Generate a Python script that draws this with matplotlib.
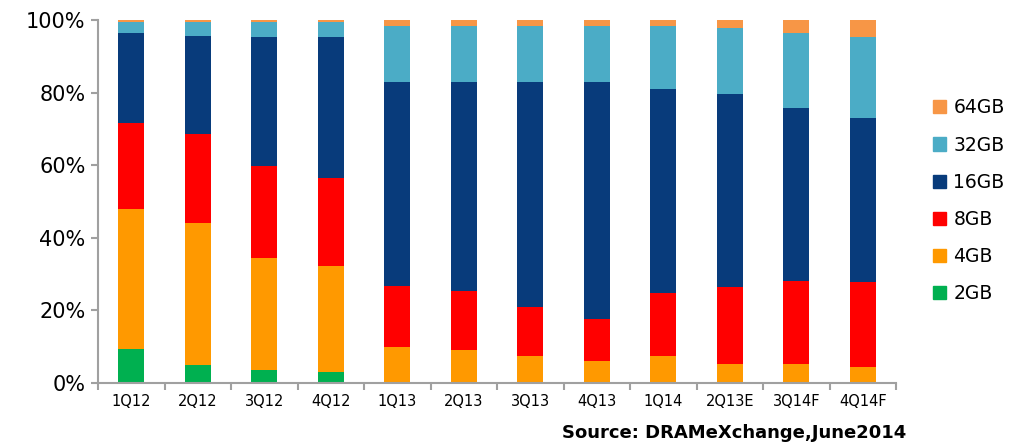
import numpy as np
import matplotlib.pyplot as plt
from matplotlib.patches import Patch

quarters = ["1Q12", "2Q12", "3Q12", "4Q12", "1Q13", "2Q13", "3Q13", "4Q13",
            "1Q14", "2Q13E", "3Q14F", "4Q14F"]

# share of shipments per capacity (%)
gb2 = [9.5, 5.0, 3.6, 3.0, 0, 0, 0, 0, 0, 0, 0, 0]
gb4 = [38.5, 39.0, 30.8, 29.2, 9.9, 9.1, 7.4, 6.1, 7.4, 5.2, 5.2, 4.4]
gb8 = [23.5, 24.5, 25.4, 24.3, 16.8, 16.2, 13.5, 11.5, 17.4, 21.2, 22.9, 23.4]
gb16 = [25.0, 27.0, 35.5, 38.8, 56.2, 57.6, 62.0, 65.3, 56.2, 53.2, 47.7, 45.2]
gb32 = [3.0, 4.0, 4.2, 4.2, 15.4, 15.4, 15.4, 15.4, 17.3, 18.2, 20.6, 22.3]
gb64 = [0.5, 0.5, 0.5, 0.5, 1.7, 1.7, 1.7, 1.7, 1.7, 2.2, 3.6, 4.7]

series = [("2GB", gb2, "#00b050"), ("4GB", gb4, "#ff9900"), ("8GB", gb8, "#ff0000"),
          ("16GB", gb16, "#083b7b"), ("32GB", gb32, "#4bacc6"), ("64GB", gb64, "#f79646")]

fig = plt.figure(figsize=(10.21, 4.48), dpi=100)
ax = fig.add_axes([0.096, 0.1451, 0.7816, 0.8103])

x = np.arange(len(quarters))
bottom = np.zeros(len(quarters))
for name, vals, col in series:
    ax.bar(x, vals, bottom=bottom, width=0.39, color=col, linewidth=0)
    bottom += np.array(vals)

ax.set_xlim(-0.5, len(quarters) - 0.5)
ax.set_ylim(0, 100)
ax.set_yticks(range(0, 101, 20))
ax.set_yticklabels([f"{v}%" for v in range(0, 101, 20)], fontsize=15)
ax.set_xticks(x)
ax.set_xticklabels(quarters, fontsize=10.5)
ax.set_xticks(np.arange(len(quarters) + 1) - 0.5, minor=True)
ax.tick_params(axis="x", which="major", length=0, pad=8)
ax.tick_params(axis="x", which="minor", length=5, color="#a0a0a0", width=1.5)
ax.tick_params(axis="y", length=5, color="#a0a0a0", width=1.5, pad=4)
for s in ["top", "right"]:
    ax.spines[s].set_visible(False)
for s in ["left", "bottom"]:
    ax.spines[s].set_color("#a0a0a0")
    ax.spines[s].set_linewidth(1.5)

handles = [Patch(color=col, label=name) for name, vals, col in series][::-1]
fig.legend(handles=handles, loc="upper left", bbox_to_anchor=(0.897, 0.818),
           frameon=False, fontsize=13.5, handlelength=0.7, handleheight=0.7,
           handletextpad=0.4, labelspacing=0.97)

fig.text(0.888, 0.022, "Source: DRAMeXchange,June2014", ha="right",
         fontsize=13, fontweight="bold")

fig.savefig("out.png", dpi=100)
